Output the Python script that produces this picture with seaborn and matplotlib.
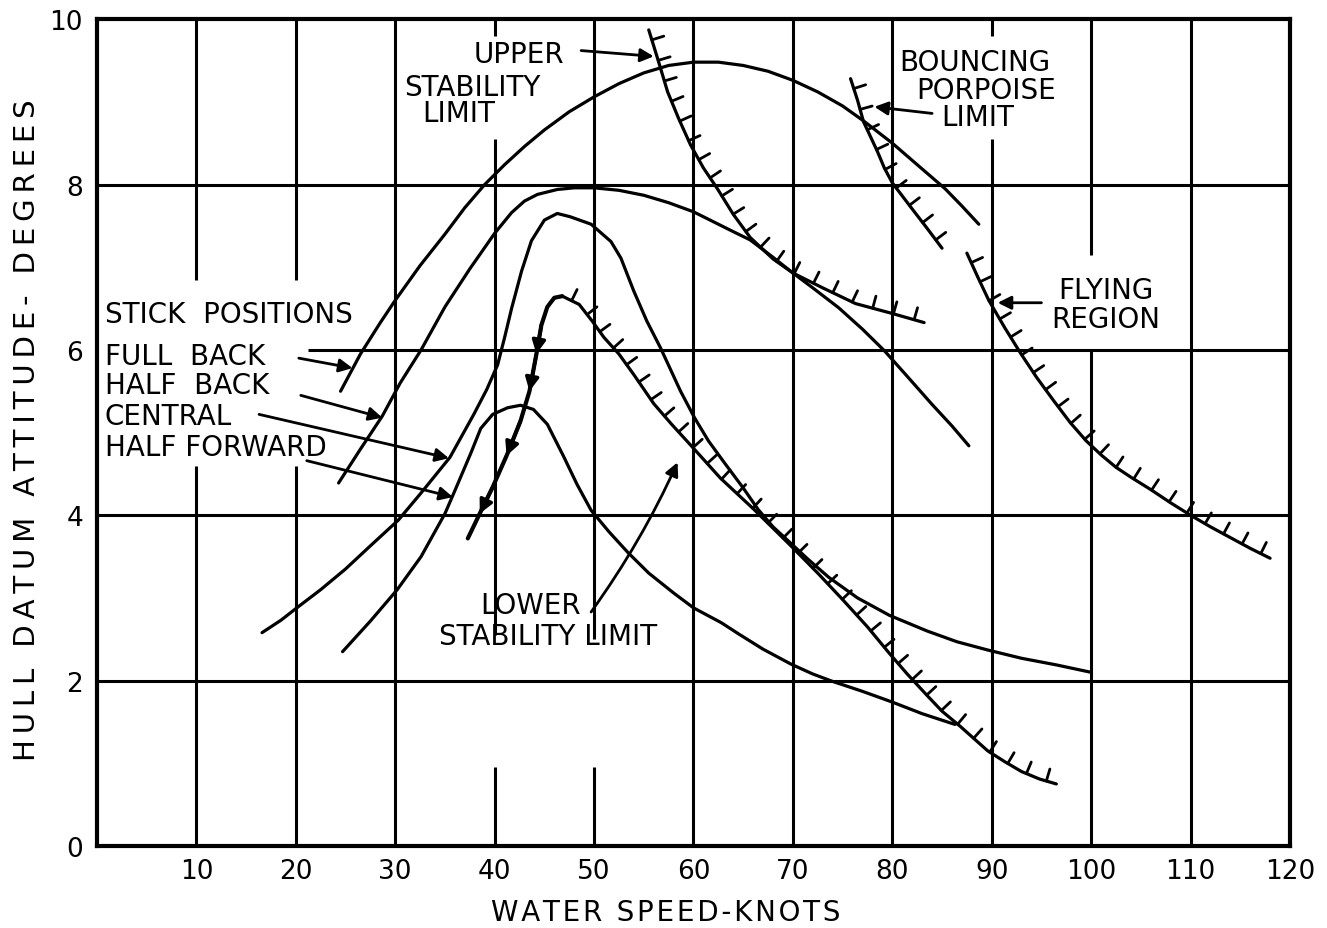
import numpy as np
import seaborn as sns
import matplotlib.pyplot as plt
from matplotlib import patheffects

# curves: water speed (knots) vs hull datum attitude (degrees)
full_back_x = [24.5, 26.5, 28.5, 30, 32.5, 35, 37, 39, 41, 43, 45, 47.5, 50, 52.5, 55, 57.5, 60,
               62.5, 65, 67.5, 70, 72.5, 75, 77.1, 80, 82.5, 85.3, 87, 88.7]
full_back_y = [5.5, 5.95, 6.33, 6.6, 7.02, 7.4, 7.72, 8.0, 8.24, 8.46, 8.66, 8.88, 9.06, 9.22, 9.35, 9.44, 9.48,
               9.48, 9.44, 9.37, 9.26, 9.12, 8.95, 8.77, 8.5, 8.24, 7.95, 7.74, 7.52]

half_back_x = [24.3, 26.5, 28.7, 30.5, 32.6, 35, 37.5, 40, 41.7, 43, 44.3, 46.3, 48, 50, 52.5, 55, 57.5, 60,
               62, 64, 65.7, 68, 70, 72, 74.6, 77, 79.2, 81.5, 84, 86, 87.7]
half_back_y = [4.39, 4.8, 5.2, 5.6, 6.0, 6.52, 6.98, 7.41, 7.66, 7.8, 7.88, 7.94, 7.96, 7.96, 7.93, 7.87, 7.78, 7.67,
               7.55, 7.43, 7.33, 7.12, 6.93, 6.75, 6.51, 6.25, 5.99, 5.68, 5.34, 5.08, 4.84]

central_x = [16.6, 18.5, 20.1, 22.5, 25, 27.5, 30.3, 32.6, 35.5, 37.9, 39.2, 40.3, 41, 41.7, 42.7, 43.7,
             45, 46.3, 47.6, 49.7, 51.7, 52.7, 54, 55.3, 56.7, 58.7, 60.1, 61.5, 63.2, 65, 66.5, 68,
             69.8, 71.5, 73.6, 76.5, 79.7, 83.5, 86.5, 89.6, 93, 96.5, 100]
central_y = [2.58, 2.73, 2.88, 3.1, 3.35, 3.63, 3.94, 4.27, 4.7, 5.22, 5.52, 5.82, 6.15, 6.5, 6.95, 7.32,
             7.57, 7.65, 7.61, 7.52, 7.31, 7.11, 6.71, 6.35, 6.02, 5.5, 5.18, 4.9, 4.62, 4.33, 4.07, 3.86,
             3.66, 3.47, 3.25, 3.0, 2.79, 2.6, 2.47, 2.37, 2.27, 2.19, 2.1]

half_fwd_x = [24.7, 27.5, 30.2, 32.6, 35, 35.9, 37.6, 38.6, 39.8, 41.3, 42.6, 43.9, 45.3, 46.9, 48.3, 49.7,
              51.5, 53.4, 55.5, 58, 60, 62.8, 64.6, 67, 69.8, 72, 74, 77, 80, 83, 86.3]
half_fwd_y = [2.35, 2.72, 3.1, 3.5, 4.02, 4.27, 4.75, 5.05, 5.22, 5.3, 5.33, 5.28, 5.1, 4.72, 4.37, 4.06,
              3.8, 3.55, 3.3, 3.06, 2.88, 2.7, 2.56, 2.38, 2.2, 2.08, 1.99, 1.87, 1.74, 1.6, 1.47]

# stability / porpoising boundaries (hatched)
upper_lim_x = [55.5, 56.4, 57.4, 58.5, 59.7, 61, 62.4, 64, 65.7, 68, 70, 73, 76.3, 80, 83.2]
upper_lim_y = [9.87, 9.52, 9.12, 8.8, 8.48, 8.2, 7.95, 7.64, 7.36, 7.1, 6.93, 6.75, 6.56, 6.44, 6.33]

lower_left_x = [37.3, 38.5, 39.8, 41.2, 42.6, 43.5, 44.2, 44.7, 45.3, 46, 46.8]
lower_left_y = [3.72, 4.02, 4.34, 4.72, 5.14, 5.5, 5.95, 6.3, 6.52, 6.63, 6.65]
lower_lim_x = [46.8, 48.5, 49.8, 51, 52.5, 54, 56, 57.8, 59.7, 62.7, 66, 69.8, 72.5, 75, 77.5, 79.7, 81.5,
               83.5, 85, 86.8, 88.2, 89.6, 91.3, 93, 94.8, 96.5]
lower_lim_y = [6.65, 6.55, 6.35, 6.15, 5.95, 5.7, 5.35, 5.1, 4.85, 4.45, 4.08, 3.63, 3.3, 2.98, 2.65, 2.33,
               2.08, 1.82, 1.63, 1.45, 1.3, 1.15, 1.02, 0.9, 0.81, 0.75]

porpoise_x = [75.8, 76.5, 77.1, 78.5, 79.2, 80, 81.9, 83.5, 85]
porpoise_y = [9.28, 9.02, 8.76, 8.4, 8.2, 8.02, 7.72, 7.47, 7.23]

flying_x = [87.5, 88.6, 89.7, 91.3, 92.9, 94.5, 96.2, 97.9, 99.5, 101, 102.5, 104, 106, 108, 110,
            112, 114, 116, 118]
flying_y = [7.17, 6.88, 6.6, 6.27, 5.96, 5.67, 5.39, 5.12, 4.9, 4.73, 4.58, 4.46, 4.31, 4.15, 4.0,
            3.86, 3.73, 3.6, 3.48]

x_ticks = [10, 20, 30, 40, 50, 60, 70, 80, 90, 100, 110, 120]
y_ticks = [0, 2, 4, 6, 8, 10]

stick_labels = ["STICK  POSITIONS", "FULL  BACK", "HALF  BACK", "CENTRAL", "HALF FORWARD"]
stick_label_y = [6.43, 5.93, 5.57, 5.2, 4.83]

notes = ["UPPER", "STABILITY", "LIMIT", "BOUNCING", "PORPOISE", "LIMIT", "FLYING", "REGION",
         "LOWER", "STABILITY LIMIT"]
notes_x = [42.4, 37.8, 36.4, 88.3, 89.4, 88.6, 101.5, 101.5, 43.6, 45.4]
notes_y = [9.58, 9.18, 8.86, 9.48, 9.14, 8.82, 6.73, 6.37, 2.92, 2.54]

# arrows: (tail, head)
arrows = [((48.7, 9.62), (56.0, 9.55)),
          ((84.0, 8.86), (78.2, 8.94)),
          ((95.0, 6.57), (90.6, 6.57)),
          ((20.3, 5.90), (25.7, 5.78)),
          ((20.5, 5.45), (28.7, 5.18)),
          ((16.3, 5.22), (35.4, 4.69)),
          ((21.1, 4.66), (35.8, 4.22))]

# grid lines with the gaps left for lettering
v_grid = {10: [(0, 4.6), (6.85, 10)], 20: [(0, 4.6), (6.85, 10)], 30: [(0, 10)],
          40: [(0, 0.95), (2.55, 8.55), (9.8, 10)], 50: [(0, 0.95), (2.5, 10)],
          60: [(0, 10)], 70: [(0, 10)], 80: [(0, 10)], 90: [(0, 8.55), (9.8, 10)],
          100: [(0, 6.0), (7.15, 10)], 110: [(0, 10)]}
h_grid = {2: [(0, 120)], 4: [(0, 120)], 6: [(21.2, 120)], 8: [(0, 120)]}


def spaced(s, gap="\u2009"):
    # imitate the wide letter spacing of the hand lettering
    return gap.join(s)


sns.set_theme(style="white")
plt.rcParams['font.family'] = ['DejaVu Sans']
plt.rcParams['text.color'] = 'black'
plt.rcParams['axes.labelcolor'] = 'black'
plt.rcParams['xtick.color'] = 'black'
plt.rcParams['ytick.color'] = 'black'

fig = plt.figure(figsize=(13.27, 9.29), dpi=100)
ax = fig.add_axes([0.0731, 0.0883, 0.899, 0.890])

for xv, segs in v_grid.items():
    for y0, y1 in segs:
        ax.plot([xv, xv], [y0, y1], color='black', lw=2.2, zorder=1, solid_capstyle='butt')
for yv, segs in h_grid.items():
    for x0, x1 in segs:
        ax.plot([x0, x1], [yv, yv], color='black', lw=2.2, zorder=1, solid_capstyle='butt')

line_kw = dict(color='black', lw=2.3, sort=False, estimator=None, ax=ax, zorder=3)
hatch = [patheffects.withTickedStroke(angle=90, spacing=15, length=0.6, linewidth=2.0)]

for xs, ys in [(full_back_x, full_back_y), (half_back_x, half_back_y),
               (central_x, central_y), (half_fwd_x, half_fwd_y)]:
    sns.lineplot(x=xs, y=ys, **line_kw)
sns.lineplot(x=lower_left_x, y=lower_left_y, color='black', lw=3.0, sort=False,
             estimator=None, ax=ax, zorder=3)
for xs, ys in [(upper_lim_x, upper_lim_y), (lower_lim_x, lower_lim_y),
               (porpoise_x, porpoise_y), (flying_x, flying_y)]:
    sns.lineplot(x=xs, y=ys, path_effects=hatch, **line_kw)

# arrow heads running down the left branch of the lower limit
for i in [1, 3, 5, 6]:
    ax.annotate("", xy=(lower_left_x[i], lower_left_y[i]),
                xytext=(lower_left_x[i + 1], lower_left_y[i + 1]),
                arrowprops=dict(arrowstyle='-|>', color='black', lw=2.5,
                                mutation_scale=20, shrinkA=0, shrinkB=0), zorder=4)

for (tx, ty), (hx, hy) in arrows:
    ax.annotate("", xy=(hx, hy), xytext=(tx, ty),
                arrowprops=dict(arrowstyle='-|>', color='black', lw=2.0,
                                mutation_scale=20, shrinkA=0, shrinkB=0), zorder=4)
ax.annotate("", xy=(58.4, 4.64), xytext=(49.7, 2.83),
            arrowprops=dict(arrowstyle='-|>', color='black', lw=2.0, mutation_scale=20,
                            shrinkA=0, shrinkB=0, connectionstyle="arc3,rad=0.05"), zorder=4)

for s, yy in zip(stick_labels, stick_label_y):
    ax.text(0.8, yy, s, fontsize=20, ha='left', va='center', zorder=5)
for s, xx, yy in zip(notes, notes_x, notes_y):
    ax.text(xx, yy, s, fontsize=20, ha='center', va='center', zorder=5)

ax.set_xlim(0, 120)
ax.set_ylim(0, 10)
ax.set_xticks(x_ticks)
ax.set_xticklabels([str(v) for v in x_ticks], fontsize=19)
ax.set_yticks(y_ticks)
ax.set_yticklabels([str(v) for v in y_ticks], fontsize=19)
ax.tick_params(axis='both', length=0, colors='black')
ax.tick_params(axis='x', pad=9)
ax.tick_params(axis='y', pad=10)
for sp in ax.spines.values():
    sp.set_color('black')
    sp.set_linewidth(3)

ax.set_xlabel(spaced("WATER SPEED-KNOTS", "\u200a"), fontsize=20)
ax.xaxis.set_label_coords(0.477, -0.063)
ax.set_ylabel(spaced("HULL DATUM ATTITUDE- DEGREES"), fontsize=21)
ax.yaxis.set_label_coords(-0.047, 0.504)

fig.savefig("out.png", dpi=100, facecolor='white')
